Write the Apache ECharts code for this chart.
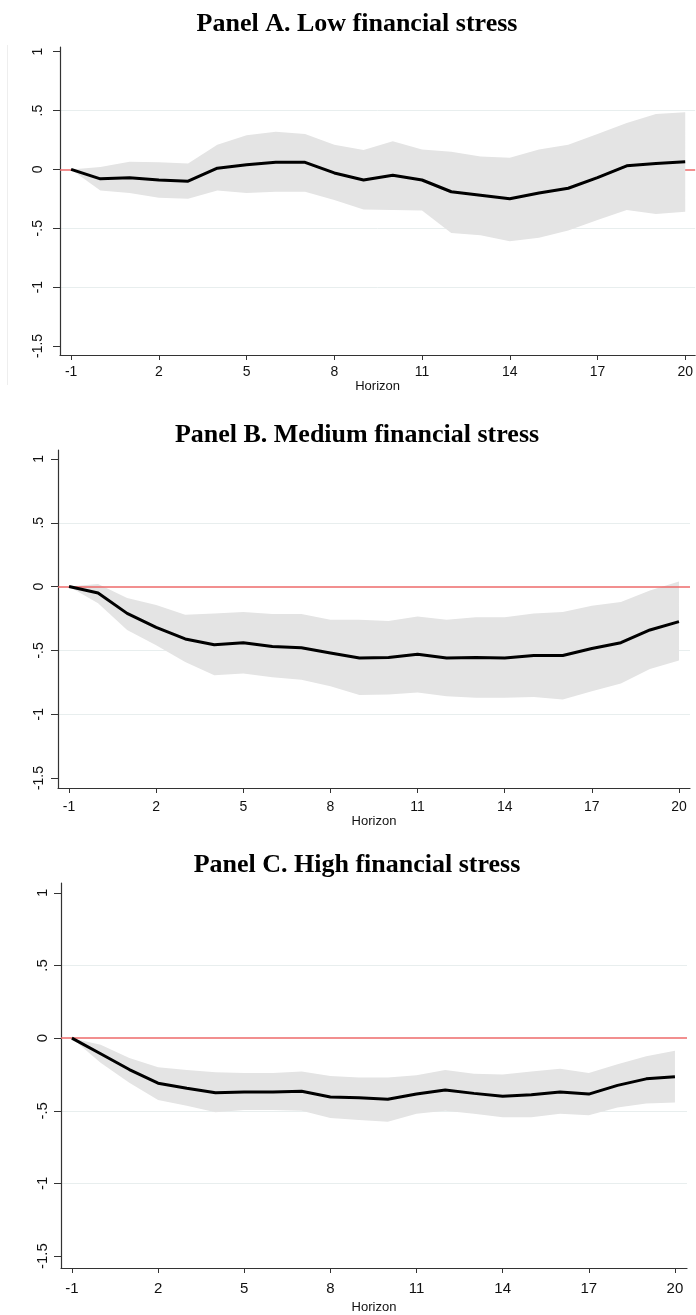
<!DOCTYPE html>
<html>
<head>
<meta charset="utf-8">
<script src="https://cdn.jsdelivr.net/npm/echarts@6/dist/echarts.min.js"></script>
<style>
  html, body { margin: 0; padding: 0; background: #fff; }
  #main { width: 696px; height: 1315px; }
</style>
</head>
<body>
<div id="main"></div>
<script>
// horizons -1 .. 20
var horizon = [-1, 0, 1, 2, 3, 4, 5, 6, 7, 8, 9, 10, 11, 12, 13, 14, 15, 16, 17, 18, 19, 20];
var xTicks = [-1, 2, 5, 8, 11, 14, 17, 20];
var yTicks = [-1.5, -1, -0.5, 0, 0.5, 1];
var yTickLabels = ['-1.5', '-1', '-.5', '0', '.5', '1'];
var gridVals = [0.5, -0.5, -1];

// Panel A. Low financial stress
var lowIrf   = [0, -0.08, -0.07, -0.09, -0.10, 0.01, 0.04, 0.06, 0.06, -0.03, -0.09, -0.05, -0.09, -0.19, -0.22, -0.25, -0.20, -0.16, -0.07, 0.03, 0.05, 0.065];
var lowUpper = [0, 0.02, 0.065, 0.06, 0.05, 0.21, 0.29, 0.32, 0.30, 0.21, 0.165, 0.24, 0.17, 0.15, 0.11, 0.10, 0.17, 0.21, 0.30, 0.395, 0.47, 0.485];
var lowLower = [0, -0.18, -0.20, -0.24, -0.25, -0.18, -0.20, -0.19, -0.19, -0.26, -0.34, -0.345, -0.35, -0.54, -0.56, -0.61, -0.58, -0.52, -0.43, -0.345, -0.38, -0.36];

// Panel B. Medium financial stress
var medIrf   = [0, -0.05, -0.21, -0.32, -0.41, -0.455, -0.44, -0.47, -0.48, -0.52, -0.56, -0.555, -0.53, -0.56, -0.555, -0.56, -0.54, -0.54, -0.485, -0.44, -0.34, -0.275];
var medUpper = [0, 0.02, -0.09, -0.145, -0.22, -0.21, -0.20, -0.215, -0.215, -0.26, -0.26, -0.27, -0.235, -0.26, -0.24, -0.24, -0.21, -0.20, -0.15, -0.12, -0.03, 0.04];
var medLower = [0, -0.13, -0.34, -0.46, -0.59, -0.695, -0.68, -0.71, -0.73, -0.78, -0.85, -0.845, -0.83, -0.86, -0.87, -0.87, -0.865, -0.885, -0.82, -0.76, -0.645, -0.58];

// Panel C. High financial stress
var highIrf   = [0, -0.107, -0.216, -0.31, -0.345, -0.375, -0.37, -0.37, -0.365, -0.405, -0.41, -0.42, -0.385, -0.357, -0.38, -0.40, -0.39, -0.37, -0.385, -0.325, -0.28, -0.265];
var highUpper = [0, -0.045, -0.136, -0.20, -0.22, -0.235, -0.24, -0.24, -0.23, -0.26, -0.27, -0.27, -0.255, -0.22, -0.245, -0.25, -0.23, -0.21, -0.24, -0.18, -0.125, -0.086];
var highLower = [0, -0.17, -0.307, -0.425, -0.466, -0.51, -0.495, -0.495, -0.50, -0.55, -0.564, -0.575, -0.52, -0.50, -0.52, -0.545, -0.545, -0.52, -0.53, -0.477, -0.45, -0.443];

var panels = [
  { title: 'Panel A. Low financial stress', irf: lowIrf, upper: lowUpper, lower: lowLower,
    grid: { left: 60, top: 47, width: 636, height: 308 }, yMin: -1.577, yMax: 1.04, xMax: 20.34,
    titleY: 24.5, xMargin: 10, nameGap: 25, yMargin: 15, yFont: 14, xFont: 14, zeroZ: 1 },
  { title: 'Panel B. Medium financial stress', irf: medIrf, upper: medUpper, lower: medLower,
    grid: { left: 58, top: 450, width: 632, height: 338 }, yMin: -1.578, yMax: 1.07, xMax: 20.38,
    titleY: 435.5, xMargin: 12, nameGap: 27, yMargin: 12, yFont: 14, xFont: 14, zeroZ: 3 },
  { title: 'Panel C. High financial stress', irf: highIrf, upper: highUpper, lower: highLower,
    grid: { left: 61, top: 883, width: 626, height: 388 }, yMin: -1.582, yMax: 1.068, xMax: 20.42,
    titleY: 865, xMargin: 13, nameGap: 33, yMargin: 11, yFont: 15, xFont: 15, zeroZ: 3 }
];

var sans = '"Liberation Sans", Arial, sans-serif';

function yLabel(v) {
  for (var i = 0; i < yTicks.length; i++) {
    if (Math.abs(yTicks[i] - v) < 1e-6) return yTickLabels[i];
  }
  return '';
}

// one polygon for the whole band: upper edge forward, lower edge back
function bandRenderer(p) {
  return function (params, api) {
    if (params.dataIndex !== 0) return null;
    var pts = [];
    for (var k = 0; k < horizon.length; k++) pts.push(api.coord([horizon[k], p.upper[k]]));
    for (var k2 = horizon.length - 1; k2 >= 0; k2--) pts.push(api.coord([horizon[k2], p.lower[k2]]));
    return { type: 'polygon', shape: { points: pts }, style: { fill: '#e4e4e4', stroke: null } };
  };
}

var option = {
  animation: false,
  backgroundColor: '#fff',
  grid: [], xAxis: [], yAxis: [], series: [],
  graphic: [
    { type: 'line', shape: { x1: 7.5, y1: 45, x2: 7.5, y2: 385 }, style: { stroke: '#eeeeee', lineWidth: 1 } }
  ]
};

panels.forEach(function (p, i) {
  option.grid.push(p.grid);
  option.graphic.push({
    type: 'text', x: 357, y: p.titleY,
    style: { text: p.title, font: 'bold 26px "Liberation Serif", "Times New Roman", serif',
             fill: '#000', align: 'center', verticalAlign: 'middle' }
  });
  option.xAxis.push({
    type: 'value', gridIndex: i, min: -1.38, max: p.xMax,
    name: 'Horizon', nameLocation: 'middle', nameGap: p.nameGap,
    nameTextStyle: { fontFamily: sans, fontSize: 13, color: '#111' },
    axisLine: { show: true, onZero: false, lineStyle: { color: '#333', width: 1.2 } },
    axisTick: { show: true, length: 5, customValues: xTicks, lineStyle: { color: '#333' } },
    axisLabel: { customValues: xTicks, margin: p.xMargin, fontFamily: sans, fontSize: p.xFont, color: '#111' },
    splitLine: { show: false }
  });
  option.yAxis.push({
    type: 'value', gridIndex: i, min: p.yMin, max: p.yMax,
    axisLine: { show: true, onZero: false, lineStyle: { color: '#333', width: 1.2 } },
    axisTick: { show: true, length: 7, customValues: yTicks, lineStyle: { color: '#333' } },
    axisLabel: { customValues: yTicks, rotate: 90, margin: p.yMargin, fontFamily: sans,
                 fontSize: p.yFont, color: '#111', formatter: yLabel },
    splitLine: { show: false }
  });
  var bandData = horizon.map(function (h, k) { return [h, p.lower[k], p.upper[k]]; });
  var irfPts = horizon.map(function (h, k) { return [h, p.irf[k]]; });
  // light grid lines
  option.series.push({
    type: 'line', xAxisIndex: i, yAxisIndex: i, data: [], z: 0,
    markLine: { silent: true, symbol: 'none', z: 0, label: { show: false },
      lineStyle: { color: '#e8eeee', width: 1, type: 'solid' },
      data: gridVals.map(function (v) { return { yAxis: v }; }) }
  });
  // confidence band
  option.series.push({
    type: 'custom', xAxisIndex: i, yAxisIndex: i, data: bandData, z: 2,
    encode: { x: 0, y: [1, 2] }, renderItem: bandRenderer(p), silent: true
  });
  // zero reference line
  option.series.push({
    type: 'line', xAxisIndex: i, yAxisIndex: i, data: [], z: p.zeroZ,
    markLine: { silent: true, symbol: 'none', z: p.zeroZ, label: { show: false },
      lineStyle: { color: '#ee6a6a', width: 1.5, type: 'solid' },
      data: [{ yAxis: 0 }] }
  });
  // impulse response
  option.series.push({
    type: 'line', xAxisIndex: i, yAxisIndex: i, data: irfPts, z: 5,
    showSymbol: false, lineStyle: { color: '#000', width: 3 }
  });
});

var myChart = echarts.init(document.getElementById('main'));
myChart.setOption(option);
</script>
</body>
</html>
